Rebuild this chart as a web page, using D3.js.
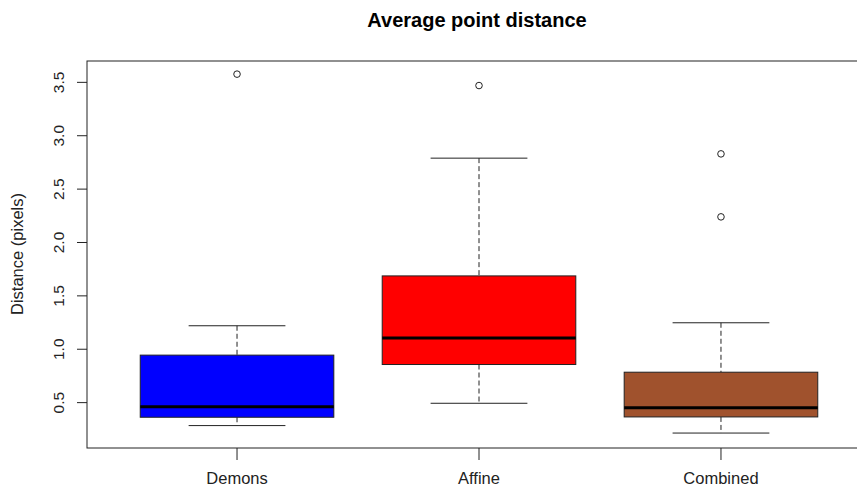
<!DOCTYPE html>
<html>
<head>
<meta charset="utf-8">
<script src="https://cdn.jsdelivr.net/npm/d3@7"></script>
<style>
  html, body { margin: 0; padding: 0; background: #fff; }
  svg { display: block; font-family: "Liberation Sans", Arial, sans-serif; }
</style>
</head>
<body>
<svg id="chart" width="857" height="486"></svg>
<script>
(function(){
'use strict';

// box statistics
var categories = ['Demons', 'Affine', 'Combined'];
var colors     = ['#0000ff', '#ff0000', '#a0522d'];
var whiskerLow = [0.285, 0.494, 0.215];
var q1         = [0.363, 0.857, 0.366];
var medians    = [0.462, 1.105, 0.453];
var q3         = [0.945, 1.687, 0.785];
var whiskerHi  = [1.220, 2.790, 1.248];
var outliers   = [[3.577], [3.470], [2.830, 2.240]];
var yTicks     = [0.5, 1.0, 1.5, 2.0, 2.5, 3.0, 3.5];

var svg = d3.select('#chart');

var left = 87, top = 61, bottom = 448, right = 871;

// R style: boxes at 1..n, xlim (0.5, n+0.5) widened by 4%
var n = categories.length;
var xPad = n * 0.04;
var x = d3.scaleLinear().domain([0.5 - xPad, n + 0.5 + xPad]).range([left, right]);
var y = d3.scaleLinear().domain([0.075, 3.70]).range([bottom, top]);

var boxW = x(1.4) - x(1);      // half width of a box (0.8 total)
var capW = boxW / 2;

var data = categories.map(function(c, i) {
    return {name: c, i: i + 1, color: colors[i], lo: whiskerLow[i], q1: q1[i],
            med: medians[i], q3: q3[i], hi: whiskerHi[i], out: outliers[i]};
});

var ink = '#222';

var boxes = svg.selectAll('g.box').data(data).enter().append('g').attr('class', 'box');

// dashed whiskers
boxes.append('line')
    .attr('x1', function(d) { return x(d.i); })
    .attr('x2', function(d) { return x(d.i); })
    .attr('y1', function(d) { return y(d.hi); })
    .attr('y2', function(d) { return y(d.q3); })
    .attr('stroke', ink).attr('stroke-dasharray', '5,3');
boxes.append('line')
    .attr('x1', function(d) { return x(d.i); })
    .attr('x2', function(d) { return x(d.i); })
    .attr('y1', function(d) { return y(d.q1); })
    .attr('y2', function(d) { return y(d.lo); })
    .attr('stroke', ink).attr('stroke-dasharray', '5,3');

// staples
['hi', 'lo'].forEach(function(k) {
    boxes.append('line')
        .attr('x1', function(d) { return x(d.i) - capW; })
        .attr('x2', function(d) { return x(d.i) + capW; })
        .attr('y1', function(d) { return y(d[k]); })
        .attr('y2', function(d) { return y(d[k]); })
        .attr('stroke', ink);
});

boxes.append('rect')
    .attr('x', function(d) { return x(d.i) - boxW; })
    .attr('width', boxW * 2)
    .attr('y', function(d) { return y(d.q3); })
    .attr('height', function(d) { return y(d.q1) - y(d.q3); })
    .attr('fill', function(d) { return d.color; })
    .attr('stroke', ink);

boxes.append('line')
    .attr('x1', function(d) { return x(d.i) - boxW; })
    .attr('x2', function(d) { return x(d.i) + boxW; })
    .attr('y1', function(d) { return y(d.med); })
    .attr('y2', function(d) { return y(d.med); })
    .attr('stroke', '#000').attr('stroke-width', 3);

boxes.selectAll('circle').data(function(d) {
        return d.out.map(function(v) { return {i: d.i, v: v}; });
    }).enter().append('circle')
    .attr('cx', function(d) { return x(d.i); })
    .attr('cy', function(d) { return y(d.v); })
    .attr('r', 3.3)
    .attr('fill', 'none')
    .attr('stroke', ink);

// plot frame
svg.append('rect')
    .attr('x', left).attr('y', top)
    .attr('width', right - left).attr('height', bottom - top)
    .attr('fill', 'none').attr('stroke', ink);

// y axis
var yAxis = svg.append('g');
yAxis.selectAll('line').data(yTicks).enter().append('line')
    .attr('x1', left - 10).attr('x2', left)
    .attr('y1', function(d) { return y(d); })
    .attr('y2', function(d) { return y(d); })
    .attr('stroke', ink);
yAxis.selectAll('text').data(yTicks).enter().append('text')
    .attr('transform', function(d) { return 'translate(64,' + y(d) + ') rotate(-90)'; })
    .attr('text-anchor', 'middle')
    .attr('font-size', 15.5)
    .attr('fill', '#222')
    .text(function(d) { return d3.format('.1f')(d); });

// x axis
var xAxis = svg.append('g');
xAxis.selectAll('line').data(data).enter().append('line')
    .attr('x1', function(d) { return x(d.i); })
    .attr('x2', function(d) { return x(d.i); })
    .attr('y1', bottom).attr('y2', bottom + 12)
    .attr('stroke', ink);
xAxis.selectAll('text').data(data).enter().append('text')
    .attr('x', function(d) { return x(d.i); })
    .attr('y', 484)
    .attr('text-anchor', 'middle')
    .attr('font-size', 16.5)
    .attr('fill', '#222')
    .text(function(d) { return d.name; });

svg.append('text')
    .attr('transform', 'translate(23,254) rotate(-90)')
    .attr('text-anchor', 'middle')
    .attr('font-size', 16.5)
    .attr('fill', '#222')
    .text('Distance (pixels)');

svg.append('text')
    .attr('x', 477).attr('y', 27)
    .attr('text-anchor', 'middle')
    .attr('font-size', 20)
    .attr('font-weight', 'bold')
    .attr('fill', '#000')
    .text('Average point distance');

})();
</script>
</body>
</html>
